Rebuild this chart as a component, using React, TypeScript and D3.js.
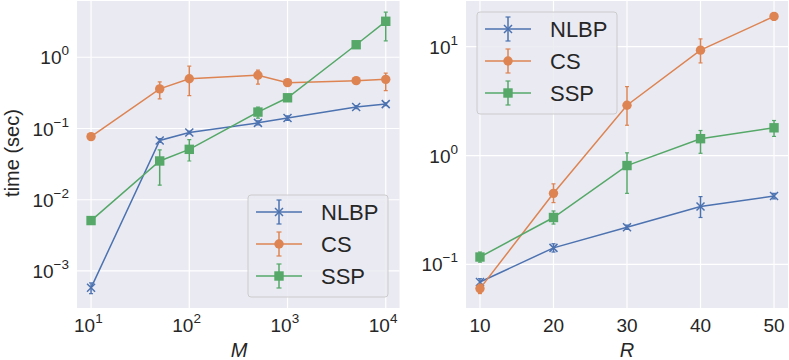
import React from 'react';
import * as d3 from 'd3';

// Left panel: time vs M
const mValues = [10, 50, 100, 500, 1000, 5000, 10000];
const nlbpM = [0.00058, 0.068, 0.088, 0.12, 0.14, 0.2, 0.22];
const nlbpMLo = [0.00048, 0.064, 0.084, 0.112, 0.13, 0.19, 0.21];
const nlbpMHi = [0.00068, 0.072, 0.092, 0.128, 0.15, 0.21, 0.23];
const csM = [0.077, 0.36, 0.5, 0.56, 0.44, 0.47, 0.49];
const csMLo = [0.072, 0.26, 0.29, 0.42, 0.4, 0.44, 0.34];
const csMHi = [0.082, 0.45, 0.75, 0.66, 0.47, 0.5, 0.6];
const sspM = [0.0051, 0.035, 0.051, 0.17, 0.27, 1.5, 3.2];
const sspMLo = [0.0047, 0.016, 0.035, 0.14, 0.25, 1.42, 1.7];
const sspMHi = [0.0055, 0.05, 0.07, 0.2, 0.29, 1.58, 4.3];

// Right panel: time vs R
const rValues = [10, 20, 30, 40, 50];
const nlbpR = [0.069, 0.142, 0.22, 0.34, 0.425];
const nlbpRLo = [0.064, 0.13, 0.21, 0.27, 0.4];
const nlbpRHi = [0.074, 0.155, 0.23, 0.42, 0.45];
const csR = [0.06, 0.45, 2.9, 9.3, 19];
const csRLo = [0.054, 0.37, 1.9, 7.1, 17.5];
const csRHi = [0.066, 0.55, 4.3, 11.8, 20.5];
const sspR = [0.117, 0.27, 0.81, 1.43, 1.8];
const sspRLo = [0.105, 0.235, 0.45, 1.05, 1.5];
const sspRHi = [0.13, 0.31, 1.06, 1.7, 2.1];

const seriesNames = ['NLBP', 'CS', 'SSP'];
const colors = ['#4C72B0', '#DD8452', '#55A868'];
const markers = ['x', 'circle', 'square'];

const leftXTicks = [1, 2, 3, 4];
const leftYTicks = [-3, -2, -1, 0];
const rightXTicks = [10, 20, 30, 40, 50];
const rightYTicks = [-1, 0, 1];

const FONT = 'Liberation Sans, Arial, sans-serif';
const BG = '#EAEAF2';

type Series = { name: string; color: string; marker: string; y: number[]; lo: number[]; hi: number[] };

function Marker({ kind, x, y, color }: { kind: string; x: number; y: number; color: string }) {
  if (kind === 'circle') return <circle cx={x} cy={y} r={4.7} fill={color} />;
  if (kind === 'square') return <rect x={x - 4.7} y={y - 4.7} width={9.4} height={9.4} fill={color} />;
  const s = 4;
  return (
    <path d={`M${x - s},${y - s}L${x + s},${y + s}M${x - s},${y + s}L${x + s},${y - s}`}
      stroke={color} strokeWidth={1.5} fill="none" />
  );
}

function Pow({ x, y, exp, anchor }: { x: number; y: number; exp: number; anchor: string }) {
  const e = exp < 0 ? `\u2212${-exp}` : `${exp}`;
  return (
    <text x={x} y={y} textAnchor={anchor} fontFamily={FONT} fontSize={19} fill="#262626">
      10<tspan dy={-9} fontSize={13.5}>{e}</tspan>
    </text>
  );
}

function Legend({ x, y, w, h, series }: { x: number; y: number; w: number; h: number; series: Series[] }) {
  return (
    <g>
      <rect x={x} y={y} width={w} height={h} rx={3} fill={BG} fillOpacity={0.85} stroke="#cccccc" strokeWidth={1} />
      {series.map((s, i) => {
        const cy = y + 17 + i * 32;
        const x0 = x + 8;
        const cx = x0 + 23;
        return (
          <g key={s.name}>
            <line x1={x0} x2={x0 + 46} y1={cy} y2={cy} stroke={s.color} strokeWidth={1.5} />
            <line x1={cx} x2={cx} y1={cy - 12} y2={cy + 12} stroke={s.color} strokeWidth={1.5} />
            <line x1={cx - 2.5} x2={cx + 2.5} y1={cy - 12} y2={cy - 12} stroke={s.color} strokeWidth={1.2} />
            <line x1={cx - 2.5} x2={cx + 2.5} y1={cy + 12} y2={cy + 12} stroke={s.color} strokeWidth={1.2} />
            <Marker kind={s.marker} x={cx} y={cy} color={s.color} />
            <text x={x0 + 65} y={cy + 8} fontFamily={FONT} fontSize={22} fill="#262626">{s.name}</text>
          </g>
        );
      })}
    </g>
  );
}

function Lines({ xs, series, xScale, yScale }: { xs: number[]; series: Series[]; xScale: any; yScale: any }) {
  const line = d3.line<number>().x((_, i) => xScale(xs[i])).y((d) => yScale(d));
  return (
    <g>
      {series.map((s) => (
        <g key={s.name}>
          <path d={line(s.y) || ''} fill="none" stroke={s.color} strokeWidth={1.5} />
          {s.y.map((_, i) => {
            const px = xScale(xs[i]);
            return (
              <g key={i}>
                <line x1={px} x2={px} y1={yScale(s.lo[i])} y2={yScale(s.hi[i])} stroke={s.color} strokeWidth={1.5} />
                <line x1={px - 2} x2={px + 2} y1={yScale(s.lo[i])} y2={yScale(s.lo[i])} stroke={s.color} strokeWidth={1.2} />
                <line x1={px - 2} x2={px + 2} y1={yScale(s.hi[i])} y2={yScale(s.hi[i])} stroke={s.color} strokeWidth={1.2} />
              </g>
            );
          })}
          {s.y.map((v, i) => (
            <Marker key={'m' + i} kind={s.marker} x={xScale(xs[i])} y={yScale(v)} color={s.color} />
          ))}
        </g>
      ))}
    </g>
  );
}

export default function App() {
  const L = { x0: 77, x1: 399.5, y0: 1, y1: 308 };
  const R = { x0: 466, x1: 788, y0: 1, y1: 308 };

  const lx = d3.scaleLog().domain([10 ** 0.857, 10 ** 4.14]).range([L.x0, L.x1]);
  const ly = d3.scaleLog().domain([10 ** -3.52, 10 ** 0.79]).range([L.y1, L.y0]);
  const rx = d3.scaleLinear().domain([8.1, 51.9]).range([R.x0, R.x1]);
  const ry = d3.scaleLog().domain([10 ** -1.4, 10 ** 1.42]).range([R.y1, R.y0]);

  const leftSeries: Series[] = [
    { name: seriesNames[0], color: colors[0], marker: markers[0], y: nlbpM, lo: nlbpMLo, hi: nlbpMHi },
    { name: seriesNames[1], color: colors[1], marker: markers[1], y: csM, lo: csMLo, hi: csMHi },
    { name: seriesNames[2], color: colors[2], marker: markers[2], y: sspM, lo: sspMLo, hi: sspMHi },
  ];
  const rightSeries: Series[] = [
    { name: seriesNames[0], color: colors[0], marker: markers[0], y: nlbpR, lo: nlbpRLo, hi: nlbpRHi },
    { name: seriesNames[1], color: colors[1], marker: markers[1], y: csR, lo: csRLo, hi: csRHi },
    { name: seriesNames[2], color: colors[2], marker: markers[2], y: sspR, lo: sspRLo, hi: sspRHi },
  ];

  return (
    <svg width={789} height={360} style={{ position: 'absolute', left: 0, top: 0, background: '#fff' }}>
      <defs>
        <clipPath id="clipL"><rect x={L.x0} y={L.y0} width={L.x1 - L.x0} height={L.y1 - L.y0} /></clipPath>
        <clipPath id="clipR"><rect x={R.x0} y={R.y0} width={R.x1 - R.x0} height={R.y1 - R.y0} /></clipPath>
      </defs>

      {/* left panel */}
      <rect x={L.x0} y={L.y0} width={L.x1 - L.x0} height={L.y1 - L.y0} fill={BG} />
      {leftXTicks.map((e) => (
        <line key={'lxg' + e} x1={lx(10 ** e)} x2={lx(10 ** e)} y1={L.y0} y2={L.y1} stroke="#fff" strokeWidth={1.2} />
      ))}
      {leftYTicks.map((e) => (
        <line key={'lyg' + e} x1={L.x0} x2={L.x1} y1={ly(10 ** e)} y2={ly(10 ** e)} stroke="#fff" strokeWidth={1.2} />
      ))}
      <g clipPath="url(#clipL)">
        <Lines xs={mValues} series={leftSeries} xScale={lx} yScale={ly} />
      </g>
      {leftXTicks.map((e) => (
        <Pow key={'lxt' + e} x={lx(10 ** e) - 17} y={332} exp={e} anchor="start" />
      ))}
      {leftYTicks.map((e) => (
        <Pow key={'lyt' + e} x={69} y={ly(10 ** e) + 7} exp={e} anchor="end" />
      ))}
      <text x={239} y={357} textAnchor="middle" fontFamily={FONT} fontSize={20} fontStyle="italic" fill="#262626">M</text>
      <text transform="translate(19,153) rotate(-90)" textAnchor="middle" fontFamily={FONT} fontSize={20} fill="#262626">time (sec)</text>
      <Legend x={248} y={195} w={140} h={102} series={leftSeries} />

      {/* right panel */}
      <rect x={R.x0} y={R.y0} width={R.x1 - R.x0} height={R.y1 - R.y0} fill={BG} />
      {rightXTicks.map((t) => (
        <line key={'rxg' + t} x1={rx(t)} x2={rx(t)} y1={R.y0} y2={R.y1} stroke="#fff" strokeWidth={1.2} />
      ))}
      {rightYTicks.map((e) => (
        <line key={'ryg' + e} x1={R.x0} x2={R.x1} y1={ry(10 ** e)} y2={ry(10 ** e)} stroke="#fff" strokeWidth={1.2} />
      ))}
      <Legend x={477} y={12} w={140} h={102} series={rightSeries} />
      <g clipPath="url(#clipR)">
        <Lines xs={rValues} series={rightSeries} xScale={rx} yScale={ry} />
      </g>
      {rightXTicks.map((t) => (
        <text key={'rxt' + t} x={rx(t)} y={332} textAnchor="middle" fontFamily={FONT} fontSize={19} fill="#262626">{t}</text>
      ))}
      {rightYTicks.map((e) => (
        <Pow key={'ryt' + e} x={458} y={ry(10 ** e) + 7} exp={e} anchor="end" />
      ))}
      <text x={627} y={357} textAnchor="middle" fontFamily={FONT} fontSize={20} fontStyle="italic" fill="#262626">R</text>
    </svg>
  );
}
